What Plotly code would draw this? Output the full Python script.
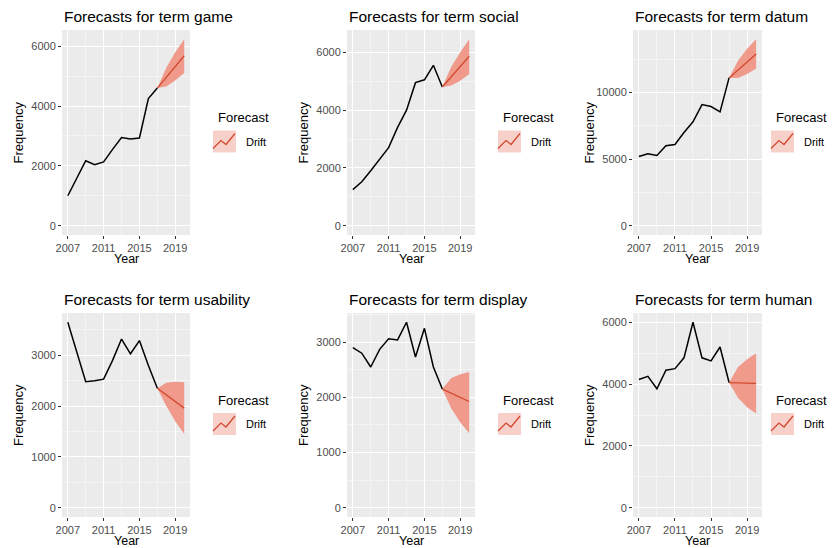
import plotly.graph_objects as go

OFF = 8  # page body margin
W, H = 837 - OFF, 548 - OFF

years = list(range(2007, 2018))
fc_years = [2017, 2018, 2019, 2020]

terms = ["game", "social", "datum", "usability", "display", "human"]

game = [1000, 1600, 2170, 2040, 2130, 2550, 2950, 2900, 2930, 4250, 4600]
game_fc = [4600, 4960, 5320, 5680]
game_lo = [4600, 4650, 4850, 5100]
game_hi = [4600, 5280, 5800, 6230]

social = [1250, 1520, 1900, 2280, 2700, 3400, 4000, 4950, 5050, 5550, 4800]
social_fc = [4800, 5155, 5510, 5865]
social_lo = [4800, 4850, 5020, 5250]
social_hi = [4800, 5500, 6000, 6450]

datum = [5200, 5400, 5280, 6000, 6100, 7000, 7800, 9100, 8950, 8550, 11100]
datum_fc = [11100, 11700, 12300, 12900]
datum_lo = [11100, 11100, 11400, 11800]
datum_hi = [11100, 12400, 13300, 14000]

usability = [3650, 3050, 2480, 2500, 2530, 2900, 3320, 3030, 3290, 2800, 2350]
usability_fc = [2350, 2220, 2090, 1960]
usability_lo = [2350, 2000, 1700, 1450]
usability_hi = [2350, 2460, 2480, 2470]

display = [2900, 2800, 2550, 2870, 3060, 3040, 3360, 2730, 3250, 2550, 2150]
display_fc = [2150, 2075, 2000, 1925]
display_lo = [2150, 1800, 1550, 1350]
display_hi = [2150, 2350, 2420, 2460]

human = [4150, 4250, 3850, 4450, 4500, 4850, 6000, 4850, 4750, 5200, 4050]
human_fc = [4050, 4040, 4030, 4020]
human_lo = [4050, 3550, 3250, 3050]
human_hi = [4050, 4550, 4800, 5000]

series = [
    (game, game_fc, game_lo, game_hi, 2000),
    (social, social_fc, social_lo, social_hi, 2000),
    (datum, datum_fc, datum_lo, datum_hi, 5000),
    (usability, usability_fc, usability_lo, usability_hi, 1000),
    (display, display_fc, display_lo, display_hi, 1000),
    (human, human_fc, human_lo, human_hi, 2000),
]

cols_px = [(62, 190), (347, 475), (633, 762)]
legend_shift = [0, 0, -14]
rows_px = [(30, 235), (313, 517)]

FILL = "#f09a8c"
LINE = "#d2492f"
GRID = "#ebebeb"
MINOR = "#f4f4f4"


def px(v):
    return (v - OFF) / W


def py(v):
    return 1 - (v - OFF) / H


fig = go.Figure()
layout = dict(width=W, height=H, margin=dict(l=0, r=0, t=0, b=0),
              paper_bgcolor="white", showlegend=False,
              font=dict(family="Liberation Sans, Arial", color="black"))
annotations, shapes = [], []


def note(text, x, y, size, xanchor="left", angle=0):
    annotations.append(dict(text=text, x=px(x), y=py(y), xref="paper", yref="paper",
                            xanchor=xanchor, yanchor="middle", showarrow=False,
                            textangle=angle, font=dict(size=size)))


for i, (term, (obs, fc, lo, hi, step)) in enumerate(zip(terms, series)):
    r, c = divmod(i, 3)
    x0, x1 = cols_px[c]
    y0, y1 = rows_px[r]
    n = "" if i == 0 else str(i + 1)
    xa, ya = "x" + n, "y" + n
    fig.add_trace(go.Scatter(x=fc_years, y=hi, mode="lines", line=dict(width=0),
                             xaxis=xa, yaxis=ya, hoverinfo="skip"))
    fig.add_trace(go.Scatter(x=fc_years, y=lo, mode="lines", line=dict(width=0),
                             fill="tonexty", fillcolor=FILL, xaxis=xa, yaxis=ya))
    fig.add_trace(go.Scatter(x=years, y=obs, mode="lines", line=dict(color="black", width=1.5),
                             xaxis=xa, yaxis=ya))
    fig.add_trace(go.Scatter(x=fc_years, y=fc, mode="lines", line=dict(color=LINE, width=1.3),
                             xaxis=xa, yaxis=ya))
    ymax = max(hi + obs)
    pad = ymax * 0.05
    axis_common = dict(showgrid=True, gridcolor="white", gridwidth=1.2, zeroline=False,
                       ticks="outside", ticklen=3, tickcolor="#333333", automargin=False,
                       tickfont=dict(size=11, color="#4d4d4d"), showline=False)
    layout["xaxis" + n] = dict(axis_common, domain=[px(x0), px(x1)], anchor=ya,
                               range=[2006.35, 2020.65], tick0=2007, dtick=4,
                               minor=dict(showgrid=True, gridcolor=MINOR, gridwidth=0.6, dtick=2, tick0=2007))
    layout["yaxis" + n] = dict(axis_common, domain=[py(y1), py(y0)], anchor=xa,
                               range=[-pad, ymax + pad], tick0=0, dtick=step, tickformat="d",
                               minor=dict(showgrid=True, gridcolor=MINOR, gridwidth=0.6, dtick=step / 2, tick0=0))
    shapes.append(dict(type="rect", xref="paper", yref="paper", layer="below",
                       x0=px(x0), x1=px(x1), y0=py(y1), y1=py(y0),
                       fillcolor=GRID, line=dict(width=0)))
    note(f"Forecasts for term {term}", x0, y0 - 14, 15.5)
    note("Year", (x0 + x1) / 2, y1 + 24, 12.5, xanchor="center")
    note("Frequency", x0 - 44, (y0 + y1) / 2, 13, xanchor="center", angle=-90)
    # legend
    lx = x1 + 23 + legend_shift[c]
    ly = (y0 + y1) / 2 - 15
    note("Forecast", lx + 3, ly, 13)
    kx0, ky0 = lx, ly + 13
    shapes.append(dict(type="rect", xref="paper", yref="paper", x0=px(kx0), x1=px(kx0 + 23),
                       y0=py(ky0 + 22), y1=py(ky0), fillcolor="#f8d0ca", line=dict(width=0)))
    shapes.append(dict(type="path", xref="paper", yref="paper",
                       path=f"M {px(kx0)},{py(ky0 + 18)} L {px(kx0 + 8)},{py(ky0 + 10)} "
                            f"L {px(kx0 + 13)},{py(ky0 + 14)} L {px(kx0 + 22)},{py(ky0 + 3)}",
                       line=dict(color=LINE, width=1.3)))
    note("Drift", kx0 + 31, ky0 + 11, 11)

layout["annotations"] = annotations
layout["shapes"] = shapes
layout["plot_bgcolor"] = "rgba(0,0,0,0)"
fig.update_layout(**layout)
fig.write_html("out.html")
